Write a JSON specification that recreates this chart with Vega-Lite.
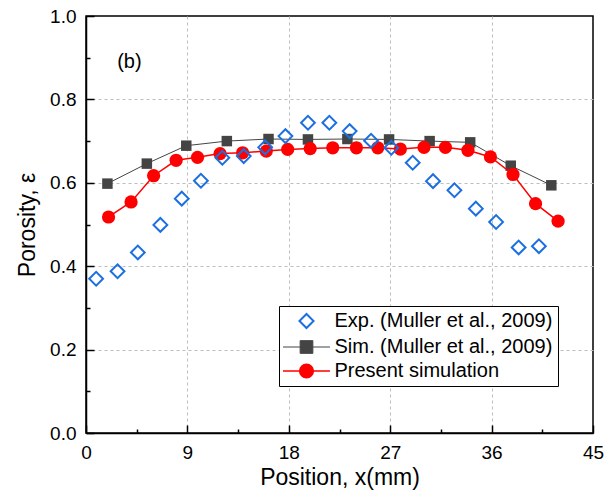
{
  "$schema": "https://vega.github.io/schema/vega-lite/v6.json",
  "width": 507,
  "height": 417,
  "autosize": {"type": "none"},
  "padding": {"left": 86, "top": 16, "right": 11, "bottom": 66},
  "background": "white",
  "config": {
    "font": "Liberation Sans",
    "view": {"stroke": "black", "strokeWidth": 1.5},
    "axis": {
      "domainColor": "black",
      "domainWidth": 1.5,
      "tickColor": "black",
      "tickWidth": 1.5,
      "labelFont": "Liberation Sans",
      "labelFontSize": 19,
      "labelColor": "black",
      "titleFont": "Liberation Sans",
      "titleFontSize": 23,
      "titleFontWeight": "normal",
      "titleColor": "black",
      "gridColor": "#bdbdbd",
      "gridDash": [3, 3],
      "gridWidth": 1
    }
  },
  "data": {
    "values": [
      {"series": "Exp. (Muller et al., 2009)", "x": 0.9, "y": 0.370},
      {"series": "Exp. (Muller et al., 2009)", "x": 2.8, "y": 0.388},
      {"series": "Exp. (Muller et al., 2009)", "x": 4.6, "y": 0.433},
      {"series": "Exp. (Muller et al., 2009)", "x": 6.6, "y": 0.499},
      {"series": "Exp. (Muller et al., 2009)", "x": 8.5, "y": 0.562},
      {"series": "Exp. (Muller et al., 2009)", "x": 10.2, "y": 0.605},
      {"series": "Exp. (Muller et al., 2009)", "x": 12.1, "y": 0.660},
      {"series": "Exp. (Muller et al., 2009)", "x": 14.0, "y": 0.664},
      {"series": "Exp. (Muller et al., 2009)", "x": 15.9, "y": 0.685},
      {"series": "Exp. (Muller et al., 2009)", "x": 17.7, "y": 0.712},
      {"series": "Exp. (Muller et al., 2009)", "x": 19.7, "y": 0.744},
      {"series": "Exp. (Muller et al., 2009)", "x": 21.6, "y": 0.744},
      {"series": "Exp. (Muller et al., 2009)", "x": 23.4, "y": 0.724},
      {"series": "Exp. (Muller et al., 2009)", "x": 25.3, "y": 0.701},
      {"series": "Exp. (Muller et al., 2009)", "x": 27.1, "y": 0.684},
      {"series": "Exp. (Muller et al., 2009)", "x": 29.0, "y": 0.648},
      {"series": "Exp. (Muller et al., 2009)", "x": 30.8, "y": 0.604},
      {"series": "Exp. (Muller et al., 2009)", "x": 32.7, "y": 0.582},
      {"series": "Exp. (Muller et al., 2009)", "x": 34.6, "y": 0.538},
      {"series": "Exp. (Muller et al., 2009)", "x": 36.4, "y": 0.506},
      {"series": "Exp. (Muller et al., 2009)", "x": 38.4, "y": 0.445},
      {"series": "Exp. (Muller et al., 2009)", "x": 40.2, "y": 0.448},
      {"series": "Sim. (Muller et al., 2009)", "x": 1.9, "y": 0.598},
      {"series": "Sim. (Muller et al., 2009)", "x": 5.4, "y": 0.646},
      {"series": "Sim. (Muller et al., 2009)", "x": 8.9, "y": 0.689},
      {"series": "Sim. (Muller et al., 2009)", "x": 12.5, "y": 0.700},
      {"series": "Sim. (Muller et al., 2009)", "x": 16.2, "y": 0.705},
      {"series": "Sim. (Muller et al., 2009)", "x": 19.7, "y": 0.704},
      {"series": "Sim. (Muller et al., 2009)", "x": 23.2, "y": 0.705},
      {"series": "Sim. (Muller et al., 2009)", "x": 26.9, "y": 0.704},
      {"series": "Sim. (Muller et al., 2009)", "x": 30.5, "y": 0.700},
      {"series": "Sim. (Muller et al., 2009)", "x": 34.1, "y": 0.697},
      {"series": "Sim. (Muller et al., 2009)", "x": 37.7, "y": 0.641},
      {"series": "Sim. (Muller et al., 2009)", "x": 41.3, "y": 0.594},
      {"series": "Present simulation", "x": 2.0, "y": 0.518},
      {"series": "Present simulation", "x": 4.0, "y": 0.554},
      {"series": "Present simulation", "x": 6.0, "y": 0.617},
      {"series": "Present simulation", "x": 8.0, "y": 0.654},
      {"series": "Present simulation", "x": 9.9, "y": 0.661},
      {"series": "Present simulation", "x": 11.9, "y": 0.670},
      {"series": "Present simulation", "x": 13.9, "y": 0.672},
      {"series": "Present simulation", "x": 16.0, "y": 0.676},
      {"series": "Present simulation", "x": 17.9, "y": 0.680},
      {"series": "Present simulation", "x": 19.9, "y": 0.682},
      {"series": "Present simulation", "x": 21.9, "y": 0.684},
      {"series": "Present simulation", "x": 24.0, "y": 0.684},
      {"series": "Present simulation", "x": 25.9, "y": 0.684},
      {"series": "Present simulation", "x": 27.9, "y": 0.681},
      {"series": "Present simulation", "x": 30.0, "y": 0.685},
      {"series": "Present simulation", "x": 31.9, "y": 0.685},
      {"series": "Present simulation", "x": 33.9, "y": 0.678},
      {"series": "Present simulation", "x": 35.9, "y": 0.662},
      {"series": "Present simulation", "x": 37.9, "y": 0.620},
      {"series": "Present simulation", "x": 39.9, "y": 0.550},
      {"series": "Present simulation", "x": 41.9, "y": 0.508}
    ]
  },
  "layer": [
    {
      "encoding": {
        "x": {
          "field": "x",
          "type": "quantitative",
          "scale": {"domain": [0, 45], "nice": false, "zero": false},
          "axis": {
            "title": "Position, x(mm)",
            "values": [0, 4.5, 9, 13.5, 18, 22.5, 27, 31.5, 36, 40.5, 45],
            "labelExpr": "datum.value % 9 === 0 ? datum.label : ''",
            "labelFlush": false,
            "labelPadding": 18,
            "titlePadding": 4,
            "tickSize": {"condition": {"test": "datum.value % 9 === 0", "value": -8}, "value": -4},
            "gridOpacity": {"condition": {"test": "datum.value % 9 === 0 && datum.value > 0 && datum.value < 45", "value": 1}, "value": 0}
          }
        },
        "y": {
          "field": "y",
          "type": "quantitative",
          "scale": {"domain": [0, 1], "nice": false},
          "axis": {
            "title": "Porosity, ε",
            "values": [0, 0.1, 0.2, 0.3, 0.4, 0.5, 0.6, 0.7, 0.8, 0.9, 1.0],
            "format": ".1f",
            "labelExpr": "round(datum.value * 10) % 2 === 0 ? datum.label : ''",
            "labelPadding": 18,
            "titlePadding": 10,
            "tickSize": {"condition": {"test": "round(datum.value * 10) % 2 === 0", "value": -8}, "value": -4},
            "gridOpacity": {"condition": {"test": "round(datum.value * 10) % 2 === 0 && datum.value > 0.01 && datum.value < 0.99", "value": 1}, "value": 0}
          }
        }
      },
      "layer": [
        {
          "transform": [{"filter": "datum.series === 'Sim. (Muller et al., 2009)'"}],
          "mark": {"type": "line", "strokeWidth": 1},
          "encoding": {
            "color": {
              "field": "series",
              "type": "nominal",
              "scale": {
                "domain": ["Exp. (Muller et al., 2009)", "Sim. (Muller et al., 2009)", "Present simulation"],
                "range": ["#1c6fe0", "#444444", "#ff0000"]
              },
              "legend": {
                "title": null,
                "orient": "none",
                "legendX": 193,
                "legendY": 290,
                "strokeColor": "black",
                "fillColor": "white",
                "padding": 5,
                "labelFont": "Liberation Sans",
                "labelFontSize": 20,
                "labelColor": "black",
                "labelLimit": 400,
                "symbolSize": 2209,
                "symbolOpacity": 1,
                "symbolOffset": 12.5,
                "labelOffset": 18,
                "rowPadding": 4,
                "encode": {
                  "symbols": {
                    "update": {
                      "shape": {"signal": "datum.value === 'Exp. (Muller et al., 2009)' ? 'M0,-0.3L0.3,0L0,0.3L-0.3,0Z' : datum.value === 'Sim. (Muller et al., 2009)' ? 'M-1,0H1M-0.27,-0.27H0.27V0.27H-0.27Z' : 'M-1,0H1M0.29,0A0.29,0.29,0,1,1,-0.29,0A0.29,0.29,0,1,1,0.29,0Z'"},
                      "fill": {"signal": "datum.value === 'Exp. (Muller et al., 2009)' ? 'transparent' : datum.value === 'Sim. (Muller et al., 2009)' ? '#444444' : '#ff0000'"},
                      "fillOpacity": {"signal": "datum.value === 'Exp. (Muller et al., 2009)' ? 0 : 1"},
                      "stroke": {"signal": "datum.value === 'Exp. (Muller et al., 2009)' ? '#1c6fe0' : datum.value === 'Sim. (Muller et al., 2009)' ? '#444444' : '#ff0000'"},
                      "strokeWidth": {"signal": "datum.value === 'Exp. (Muller et al., 2009)' ? 2 : datum.value === 'Sim. (Muller et al., 2009)' ? 1 : 1.5"},
                      "opacity": {"value": 1}
                    }
                  }
                }
              }
            }
          }
        },
        {
          "transform": [{"filter": "datum.series === 'Sim. (Muller et al., 2009)'"}],
          "mark": {"type": "point", "shape": "square", "filled": true, "size": 110, "opacity": 1},
          "encoding": {"color": {"field": "series", "type": "nominal"}}
        },
        {
          "transform": [{"filter": "datum.series === 'Present simulation'"}],
          "mark": {"type": "line", "strokeWidth": 1.5},
          "encoding": {"color": {"field": "series", "type": "nominal"}}
        },
        {
          "transform": [{"filter": "datum.series === 'Present simulation'"}],
          "mark": {"type": "point", "shape": "circle", "filled": true, "size": 175, "opacity": 1},
          "encoding": {"color": {"field": "series", "type": "nominal"}}
        },
        {
          "transform": [{"filter": "datum.series === 'Exp. (Muller et al., 2009)'"}],
          "mark": {"type": "point", "shape": "diamond", "filled": false, "size": 190, "strokeWidth": 2, "opacity": 1},
          "encoding": {"color": {"field": "series", "type": "nominal"}}
        }
      ]
    },
    {
      "data": {"values": [{"label": "(b)"}]},
      "mark": {"type": "text", "font": "Liberation Sans", "fontSize": 20, "color": "black", "align": "center", "baseline": "middle"},
      "encoding": {
        "text": {"field": "label"},
        "x": {"datum": 3.85, "type": "quantitative"},
        "y": {"datum": 0.89, "type": "quantitative"}
      }
    }
  ]
}
